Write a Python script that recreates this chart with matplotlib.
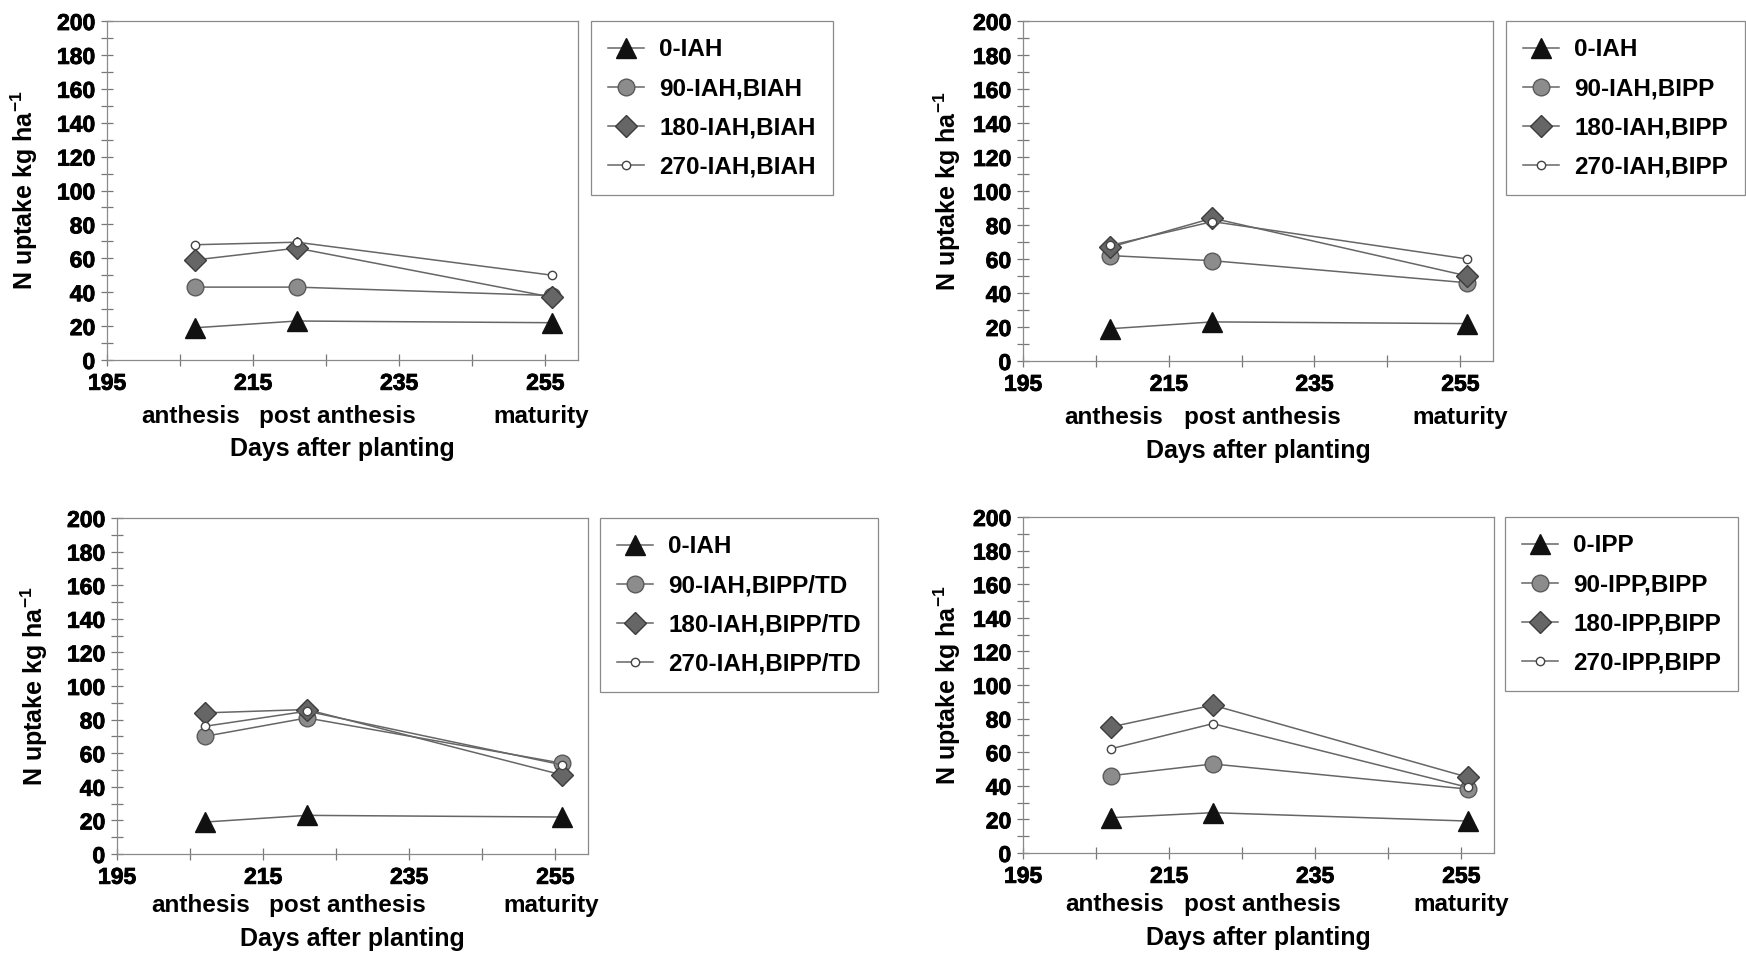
"""N uptake vs days after planting, four treatment panels (2x2)."""

import matplotlib
matplotlib.use("Agg")
import matplotlib.pyplot as plt
import matplotlib.patheffects as pe

plt.rcParams["font.family"] = ["Liberation Sans", "DejaVu Sans"]
plt.rcParams["font.weight"] = "bold"
plt.rcParams["mathtext.fontset"] = "custom"
plt.rcParams["mathtext.rm"] = "Liberation Sans:bold"
plt.rcParams["mathtext.bf"] = "Liberation Sans:bold"

# sampling days (days after planting)
DAYS = [207, 221, 256]
STAGES = ["anthesis", "post anthesis", "maturity"]
X_TICKS = [195, 215, 235, 255]
Y_TICKS = [0, 20, 40, 60, 80, 100, 120, 140, 160, 180, 200]

# panel A: IAH / BIAH
A_LABELS = ["0-IAH", "90-IAH,BIAH", "180-IAH,BIAH", "270-IAH,BIAH"]
A_0 = [19, 23, 22]
A_90 = [43, 43, 38]
A_180 = [59, 66, 37]
A_270 = [68, 69.5, 50]

# panel B: IAH / BIPP
B_LABELS = ["0-IAH", "90-IAH,BIPP", "180-IAH,BIPP", "270-IAH,BIPP"]
B_0 = [19, 23, 22]
B_90 = [62, 59, 46]
B_180 = [67, 84, 50]
B_270 = [68, 82, 60]

# panel C: IAH / BIPP/TD
C_LABELS = ["0-IAH", "90-IAH,BIPP/TD", "180-IAH,BIPP/TD", "270-IAH,BIPP/TD"]
C_0 = [19, 23, 22]
C_90 = [70, 81, 54]
C_180 = [84, 86, 47]
C_270 = [76, 85, 53]

# panel D: IPP / BIPP
D_LABELS = ["0-IPP", "90-IPP,BIPP", "180-IPP,BIPP", "270-IPP,BIPP"]
D_0 = [21, 24, 19]
D_90 = [46, 53, 38]
D_180 = [75, 88, 45]
D_270 = [62, 77, 39]

# marker style per nitrogen rate (0, 90, 180, 270)
STYLES = [
    {"marker": "^", "markersize": 14, "markerfacecolor": "#111111", "markeredgecolor": "#111111"},
    {"marker": "o", "markersize": 12, "markerfacecolor": "#8c8c8c", "markeredgecolor": "#5a5a5a"},
    {"marker": "D", "markersize": 11, "markerfacecolor": "#666666", "markeredgecolor": "#3c3c3c"},
    {"marker": "o", "markersize": 6, "markerfacecolor": "white", "markeredgecolor": "#444444"},
]
LINE_KW = {"color": "#666666", "linewidth": 1.1}
HEAVY = [pe.withStroke(linewidth=0.6, foreground="black")]

W, H = 1746, 956
# labels, series, axes box (l, t, r, b) px, legend top-left px, stage label x,
# ylabel x, stage label offset (pt), xlabel y
PANELS = [
    (A_LABELS, [A_0, A_90, A_180, A_270], (107, 21, 578, 360), (591, 21), (206.5, 226.5, 254.5), -0.142, -41, -0.228),
    (B_LABELS, [B_0, B_90, B_180, B_270], (1023, 21, 1493, 361), (1506, 21), (207.5, 227.8, 255), -0.128, -41, -0.228),
    (C_LABELS, [C_0, C_90, C_180, C_270], (117, 518, 588, 854), (600, 518), (206.5, 226.5, 254.5), -0.142, -37, -0.218),
    (D_LABELS, [D_0, D_90, D_180, D_270], (1023, 517, 1494, 853), (1505, 517), (207.5, 227.8, 255), -0.128, -37, -0.218),
]

fig = plt.figure(figsize=(W / 100, H / 100), dpi=100)

for labels, series, (l, t, r, b), (lx, ly), stage_x, ylab_x, stage_dy, xlab_y in PANELS:
    ax = fig.add_axes([l / W, 1 - b / H, (r - l) / W, (b - t) / H])
    for lab, vals, st in zip(labels, series, STYLES):
        ax.plot(DAYS, vals, label=lab, **LINE_KW, **st)

    ax.set_xlim(195, 259.5)
    ax.set_ylim(0, 200)
    ax.set_xticks(X_TICKS, [str(v) for v in X_TICKS])
    ax.set_xticks([205, 225, 245], minor=True)
    ax.set_yticks(Y_TICKS, [str(v) for v in Y_TICKS])
    ax.set_yticks(range(10, 200, 20), minor=True)
    ax.tick_params(which="both", direction="inout", color="#777777", width=0.9, length=9)
    ax.tick_params(which="major", pad=4, labelsize=16.5)
    for tick in ax.xaxis.get_major_ticks() + ax.yaxis.get_major_ticks():
        tick.label1.set_fontweight("bold")
        tick.label1.set_path_effects(HEAVY)
    for s in ax.spines.values():
        s.set_color("#8a8a8a")
        s.set_linewidth(0.9)

    for x, name in zip(stage_x, STAGES):
        ax.annotate(name, xy=(x, 0), xycoords=("data", "axes fraction"),
                    xytext=(0, stage_dy), textcoords="offset points",
                    ha="center", va="center", fontsize=17.5, fontweight="bold")

    ax.set_xlabel("Days after planting", fontsize=18, fontweight="bold")
    ax.xaxis.set_label_coords(0.5, xlab_y)
    ax.set_ylabel(r"N uptake kg ha$^{\mathbf{-1}}$", fontsize=18, fontweight="bold")
    ax.yaxis.set_label_coords(ylab_x, 0.5)

    leg = ax.legend(loc="upper left", bbox_to_anchor=(lx / W, 1 - ly / H),
                    bbox_transform=fig.transFigure, borderaxespad=0,
                    fontsize=17.5, frameon=True, fancybox=False, framealpha=1,
                    edgecolor="#8a8a8a", borderpad=0.7, labelspacing=0.66,
                    handlelength=1.5, handletextpad=0.6)
    leg.get_frame().set_linewidth(0.9)
    for txt in leg.get_texts():
        txt.set_fontweight("bold")

fig.savefig("out.png", dpi=100)
